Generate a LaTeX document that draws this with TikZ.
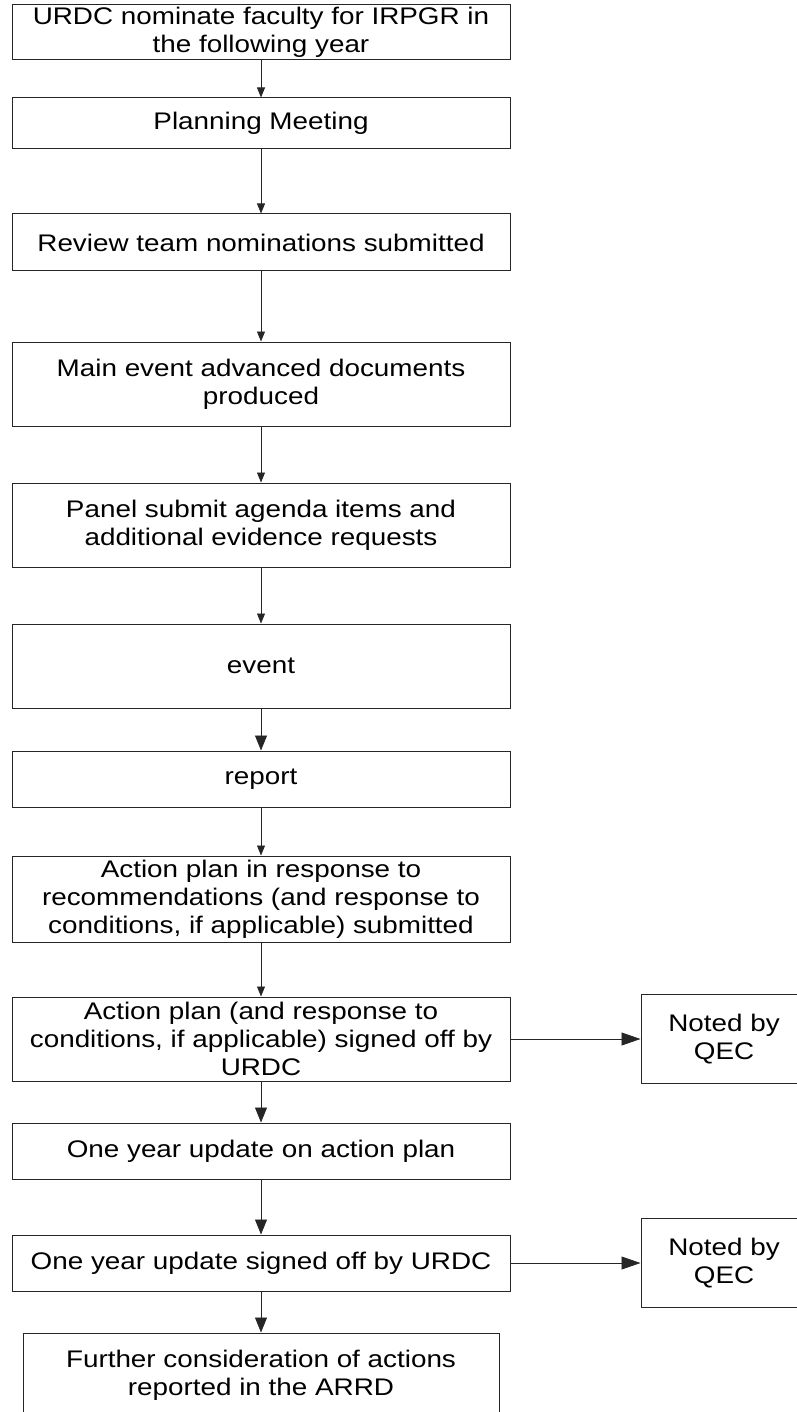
\documentclass[tikz,border=0pt]{standalone}
\usepackage{fontspec}
\setmainfont{Liberation Sans}[FakeStretch=1.16]
\usepackage{tikz}
\usetikzlibrary{shapes.geometric, arrows.meta}
\tikzstyle{stepbox} = [rectangle, minimum width=498pt, minimum height=56pt, text centered, align=center, inner sep=0pt, draw=black!85, line width=1pt, font=\fontsize{24}{28}\selectfont]
\tikzstyle{notebox} = [stepbox, minimum width=166pt, minimum height=89pt]
\tikzstyle{arrow} = [line width=0.8pt, draw=black!85, -{Triangle[length=10pt,width=8pt]}]
\tikzstyle{bigarrow} = [arrow, -{Triangle[length=15pt,width=12pt]}]
\tikzstyle{sidearrow} = [arrow, -{Triangle[length=19pt,width=13pt]}]

\begin{document}
\begin{tikzpicture}
        \useasboundingbox (0,0) rectangle (796pt,-1412pt);
        \node (nominate) [stepbox, minimum height=55pt] at (261pt,-32.5pt) {URDC nominate faculty for IRPGR in\\the following year};
        \node (meeting) [stepbox, minimum height=51pt, below of=nominate, node distance=91pt] {Planning Meeting};
        \node (review) [stepbox, minimum height=57pt, below of=meeting, node distance=119pt] {Review team nominations submitted};
        \node (docs) [stepbox, minimum height=84pt, below of=review, node distance=141.5pt] {Main event advanced documents\\produced};
        \node (panel) [stepbox, minimum height=84pt, below of=docs, node distance=141pt] {Panel submit agenda items and\\additional evidence requests};
        \node (event) [stepbox, minimum height=84pt, below of=panel, node distance=141pt] {event};
        \node (report) [stepbox, below of=event, node distance=113pt] {report};
        \node (plan) [stepbox, minimum height=86pt, below of=report, node distance=120pt] {Action plan in response to\\recommendations (and response to\\conditions, if applicable) submitted};
        \node (signoff) [stepbox, minimum height=84pt, below of=plan, node distance=140pt] {Action plan (and response to\\conditions, if applicable) signed off by\\URDC};
        \node (update) [stepbox, below of=signoff, node distance=112pt] {One year update on action plan};
        \node (updsign) [stepbox, below of=update, node distance=112pt] {One year update signed off by URDC};
        \node (further) [stepbox, minimum width=476pt, minimum height=84pt, below of=updsign, node distance=112pt] {Further consideration of actions\\reported in the ARRD};
        \node (qec1) [notebox, right of=signoff, node distance=463pt] {Noted by\\QEC};
        \node (qec2) [notebox, right of=updsign, node distance=463pt] {Noted by\\QEC};
        \draw [arrow] (nominate) -- (meeting);
        \draw [arrow] (meeting) -- (review);
        \draw [arrow] (review) -- (docs);
        \draw [arrow] (docs) -- (panel);
        \draw [arrow] (panel) -- (event);
        \draw [bigarrow] (event) -- (report);
        \draw [arrow] (report) -- (plan);
        \draw [arrow] (plan) -- (signoff);
        \draw [bigarrow] (signoff) -- (update);
        \draw [bigarrow] (update) -- (updsign);
        \draw [bigarrow] (updsign) -- (further);
        \draw [sidearrow] (signoff) -- (qec1);
        \draw [sidearrow] (updsign) -- (qec2);
    \end{tikzpicture}
\end{document}
